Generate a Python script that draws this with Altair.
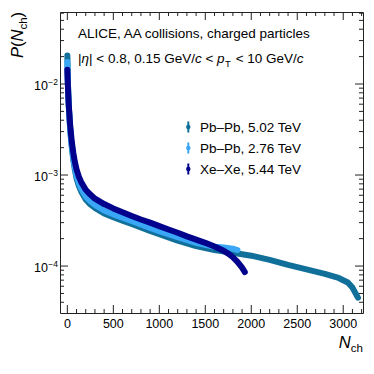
import altair as alt
import pandas as pd

# ---------------- data ----------------
SERIES = ["Pb\u2013Pb, 5.02 TeV", "Pb\u2013Pb, 2.76 TeV", "Xe\u2013Xe, 5.44 TeV"]
COLORS = ["#10709a", "#3aa6f6", "#02028c"]

N_PBPB502 = [0, 3, 6, 10, 15, 20, 30, 40, 50, 65, 80, 100, 125, 150, 200, 250, 300, 400, 500,
             600, 700, 800, 900, 1000, 1200, 1400, 1600, 1800, 2000, 2200, 2400, 2600, 2800,
             2950, 3050, 3100, 3130, 3160]
P_PBPB502 = [2.05e-2, 1.4e-2, 1.05e-2, 8.0e-3, 6.0e-3, 4.8e-3, 3.3e-3, 2.45e-3, 1.95e-3, 1.46e-3,
             1.17e-3, 9.2e-4, 7.6e-4, 6.6e-4, 5.4e-4, 4.75e-4, 4.35e-4, 3.78e-4, 3.44e-4, 3.15e-4,
             2.9e-4, 2.66e-4, 2.43e-4, 2.24e-4, 1.9e-4, 1.66e-4, 1.5e-4, 1.4e-4, 1.3e-4, 1.17e-4,
             1.03e-4, 9.2e-5, 8.2e-5, 7.4e-5, 6.6e-5, 5.8e-5, 5.1e-5, 4.5e-5]

N_PBPB276 = [0, 3, 6, 10, 15, 20, 30, 40, 50, 65, 80, 100, 125, 150, 200, 250, 300, 400, 500,
             600, 700, 800, 900, 1000, 1200, 1400, 1600, 1700, 1800, 1850]
P_PBPB276 = [1.75e-2, 1.3e-2, 1.0e-2, 7.8e-3, 5.9e-3, 4.75e-3, 3.3e-3, 2.5e-3, 2.02e-3, 1.52e-3,
             1.22e-3, 9.8e-4, 8.2e-4, 7.1e-4, 5.8e-4, 5.15e-4, 4.7e-4, 4.08e-4, 3.7e-4, 3.4e-4,
             3.13e-4, 2.87e-4, 2.62e-4, 2.42e-4, 2.08e-4, 1.8e-4, 1.63e-4, 1.6e-4, 1.55e-4, 1.5e-4]

N_XEXE = [0, 3, 6, 10, 15, 20, 30, 40, 50, 65, 80, 100, 125, 150, 200, 250, 300, 400, 500, 600,
          700, 800, 900, 1000, 1100, 1200, 1300, 1400, 1500, 1600, 1700, 1750, 1800, 1850, 1900, 1930]
P_XEXE = [1.43e-2, 1.15e-2, 9.5e-3, 7.6e-3, 6.0e-3, 5.0e-3, 3.6e-3, 2.8e-3, 2.25e-3, 1.75e-3,
          1.42e-3, 1.15e-3, 9.6e-4, 8.4e-4, 6.9e-4, 6.1e-4, 5.5e-4, 4.8e-4, 4.3e-4, 3.9e-4,
          3.55e-4, 3.25e-4, 3.0e-4, 2.75e-4, 2.52e-4, 2.32e-4, 2.12e-4, 1.95e-4, 1.8e-4, 1.64e-4,
          1.47e-4, 1.37e-4, 1.25e-4, 1.11e-4, 9.6e-5, 8.6e-5]

X_MAJOR = [0, 500, 1000, 1500, 2000, 2500, 3000]
X_LABELS = ["0", "500", "1000", "1500", "2000", "2500", "3000"]
X_MINOR = [v for v in range(100, 3300, 100) if v % 500 != 0]
Y_MAJOR = [1e-4, 1e-3, 1e-2]
Y_MAJOR_EXP = ["\u22124", "\u22123", "\u22122"]
Y_MINOR = [k * 10.0 ** e for e in (-5, -4, -3, -2) for k in range(2, 10)]
X_DOMAIN = [-80, 3215]
Y_DOMAIN = [3.05e-5, 0.0618]
Y_MINOR = [v for v in Y_MINOR if Y_DOMAIN[0] < v < Y_DOMAIN[1]]

W, H = 303, 301
FONT = "Liberation Sans"
FRAME = "#222222"

XS = alt.Scale(domain=X_DOMAIN, nice=False, zero=False)
YS = alt.Scale(type="log", domain=Y_DOMAIN, nice=False)

one = pd.DataFrame({"a": [0]})


def txt(s, x, y, size=13.5, style="normal", angle=0, align="left"):
    return alt.Chart(one).mark_text(
        text=s, font=FONT, fontSize=size, fontStyle=style, angle=angle,
        align=align, baseline="alphabetic", color="black"
    ).encode(x=alt.value(x), y=alt.value(y))


# Arial / Liberation Sans advance widths (1/1000 em)
AW = {" ": 278, "|": 260, "<": 584, ".": 278, ",": 278, "G": 778, "e": 556, "V": 667,
      "/": 278, "c": 500, "p": 556, "T": 611, "\u03b7": 556}
for d in "0123456789":
    AW[d] = 556


def width(s, size):
    return sum(AW.get(ch, 556) for ch in s) * size / 1000.0


layers = []


# ---- ticks (inside, on all four sides) ----
def xticks(vals, length):
    df = pd.DataFrame({"t": vals})
    b = alt.Chart(df).mark_rule(color=FRAME, strokeWidth=1).encode(
        x=alt.X("t:Q", scale=XS, axis=None), y=alt.value(H), y2=alt.value(H - length))
    t = alt.Chart(df).mark_rule(color=FRAME, strokeWidth=1).encode(
        x=alt.X("t:Q", scale=XS, axis=None), y=alt.value(0), y2=alt.value(length))
    return [b, t]


def yticks(vals, length):
    df = pd.DataFrame({"t": vals})
    l = alt.Chart(df).mark_rule(color=FRAME, strokeWidth=1).encode(
        y=alt.Y("t:Q", scale=YS, axis=None), x=alt.value(0), x2=alt.value(length))
    r = alt.Chart(df).mark_rule(color=FRAME, strokeWidth=1).encode(
        y=alt.Y("t:Q", scale=YS, axis=None), x=alt.value(W - length), x2=alt.value(W))
    return [l, r]


layers += xticks(X_MAJOR, 8) + xticks(X_MINOR, 4) + yticks(Y_MAJOR, 8) + yticks(Y_MINOR, 4)

# ---- series ----
series_data = [(N_PBPB502, P_PBPB502), (N_PBPB276, P_PBPB276), (N_XEXE, P_XEXE)]
for i, (ns, ps) in enumerate(series_data):
    df = pd.DataFrame({"N": ns, "P": ps, "s": SERIES[i]})
    layers.append(
        alt.Chart(df).mark_line(strokeWidth=6, strokeCap="round", strokeJoin="round",
                                color=COLORS[i]).encode(
            x=alt.X("N:Q", scale=XS, axis=None),
            y=alt.Y("P:Q", scale=YS, axis=None))
    )

# ---- x tick labels ----
xlab = pd.DataFrame({"v": X_MAJOR, "l": X_LABELS})
layers.append(alt.Chart(xlab).mark_text(font=FONT, fontSize=12.5, align="center",
                                        baseline="alphabetic", color="black").encode(
    x=alt.X("v:Q", scale=XS, axis=None), y=alt.value(H + 14.5), text="l:N"))

# ---- y tick labels (10^k) ----
ylab = pd.DataFrame({"v": Y_MAJOR, "e": Y_MAJOR_EXP, "b": ["10"] * 3})
layers.append(alt.Chart(ylab).mark_text(font=FONT, fontSize=12.5, align="right",
                                        baseline="alphabetic", dy=5.5, color="black").encode(
    y=alt.Y("v:Q", scale=YS, axis=None), x=alt.value(-12), text="b:N"))
layers.append(alt.Chart(ylab).mark_text(font=FONT, fontSize=8.5, align="left",
                                        baseline="alphabetic", dy=0.5, color="black").encode(
    y=alt.Y("v:Q", scale=YS, axis=None), x=alt.value(-11.7), text="e:N"))

# ---- legend ----
LEG_Y = [115, 136, 157]
for i, s in enumerate(SERIES):
    yc = LEG_Y[i]
    layers.append(alt.Chart(one).mark_rule(color=COLORS[i], strokeWidth=2).encode(
        x=alt.value(128.3), y=alt.value(yc - 5.5), y2=alt.value(yc + 5.5)))
    layers.append(alt.Chart(one).mark_circle(color=COLORS[i], opacity=1, size=20).encode(
        x=alt.value(128.3), y=alt.value(yc)))
    layers.append(txt(s, 140, yc + 5))

# ---- header text ----
layers.append(txt("ALICE, AA collisions, charged particles", 18, 26))
fs = 13.5
x = 18.0
base = 51
pieces = [("|", "n"), ("\u03b7", "i"), ("| < 0.8, 0.15 GeV/", "n"), ("c", "i"), (" < ", "n"),
          ("p", "i"), ("T", "s"), (" < 10 GeV/", "n"), ("c", "i")]
for s, kind in pieces:
    size = 9.5 if kind == "s" else fs
    lead = len(s) - len(s.lstrip(" "))
    core = s.strip(" ")
    xs = x + width(" " * lead, size)
    if kind == "s":
        layers.append(txt(core, xs + 0.5, base + 3.5, size=size))
        x += width(s, size) + 1.5
    else:
        layers.append(txt(core, xs, base, size=size, style="italic" if kind == "i" else "normal"))
        x += width(s, size)

# ---- axis titles ----
layers.append(txt("ch", W, 339.5, size=11.5, align="right"))
layers.append(txt("N", W - 12.3, 336, size=16.5, style="italic", align="right"))
yx = -37
yy = 46
wmap = {"P": 667, "(": 333, ")": 333, "N": 722, "ch": 1056}
for s, kind, size in [("P", "i", 16.5), ("(", "n", 16.5), ("N", "i", 16.5), ("ch", "s", 11.5), (")", "n", 16.5)]:
    xx = yx + (3.5 if kind == "s" else 0)
    layers.append(txt(s, xx, yy, size=size, style="italic" if kind == "i" else "normal", angle=270))
    yy -= wmap[s] * size / 1000.0

chart = alt.layer(*layers).properties(
    width=W, height=H,
    autosize=alt.AutoSizeParams(type="none"),
    padding={"left": 52, "top": 4, "right": 3, "bottom": 53},
    background="white",
).configure_view(stroke=FRAME, strokeWidth=1)

chart.save("out.html", embed_options={"renderer": "svg", "actions": False})
